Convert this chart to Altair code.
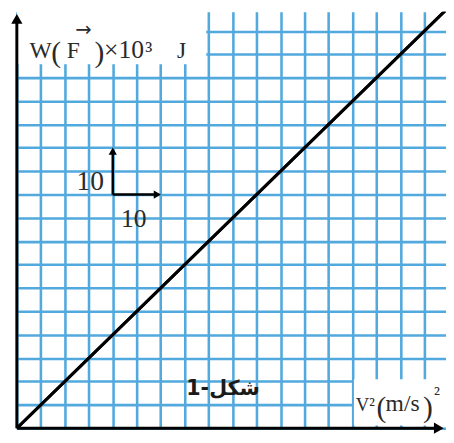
import altair as alt
import pandas as pd

# ---- data ----
v2_values = [0, 90]          # V^2 (m/s)^2
w_values = [0, 90]           # W(F) x 10^3 J
grid_x = list(range(0, 90, 5))
grid_y = list(range(0, 90, 5))
y_label_parts = ["W", "(", "F", ")", "×10", "³", "J", "→"]
x_label_parts = ["V²", "(", "m/s", ")", "²"]
figure_caption = "شكل-1"
scale_labels = ["10", "10"]

XMAX = 89.5
YMAX = 89.1
xs = alt.Scale(domain=[0, XMAX], nice=False, zero=False)
ys = alt.Scale(domain=[0, YMAX], nice=False, zero=False)
GRID = "#52a9de"
INK = "#2a2a2a"
SERIF = "Liberation Serif, Times New Roman, DejaVu Serif, serif"


def ex(field="x", t="quantitative"):
    return alt.X(field, type=t, scale=xs, axis=alt.Axis(values=grid_x), title=None)


def ey(field="y", t="quantitative"):
    return alt.Y(field, type=t, scale=ys, axis=alt.Axis(values=grid_y), title=None)


line_df = pd.DataFrame({"x": v2_values, "y": w_values})
line = alt.Chart(line_df).mark_line(color="black", strokeWidth=3, clip=True).encode(
    x=ex(), y=ey()
)

boxes_df = pd.DataFrame({
    "x": [0, 70.3], "x2": [39.5, XMAX],
    "y": [77.9, 0.6], "y2": [YMAX, 10.5],
})
boxes = alt.Chart(boxes_df).mark_rect(color="white").encode(
    x=ex(), x2="x2", y=ey(), y2="y2"
)

rules_df = pd.DataFrame({
    "x": [0, 0, 20, 20], "x2": [0, 88.0, 29.0, 20],
    "y": [0, 0, 50, 50], "y2": [87.5, 0, 50, 59.0],
    "w": [3, 3, 2.5, 2.5],
})
rules = alt.Chart(rules_df).mark_rule(color="black").encode(
    x=ex(), x2="x2", y=ey(), y2="y2",
    strokeWidth=alt.StrokeWidth("w:Q", scale=None, legend=None),
)

heads_df = pd.DataFrame({
    "x": [0, 88.0, 29.3, 20],
    "y": [87.6, 0, 50, 59.3],
    "shape": ["triangle-up", "triangle-right", "triangle-right", "triangle-up"],
    "s": [130, 130, 70, 70],
})
heads = alt.Chart(heads_df).mark_point(filled=True, color="black", opacity=1).encode(
    x=ex(), y=ey(),
    shape=alt.Shape("shape:N", scale=None, legend=None),
    size=alt.Size("s:Q", scale=None, legend=None),
)

# axis-title pieces (left aligned, alphabetic baseline)
ylab_df = pd.DataFrame({
    "t": y_label_parts[:7],
    "x": [2.66, 7.2, 10.4, 16.2, 18.2, 26.8, 33.4],
    "y": [79.2, 78.4, 79.2, 78.4, 79.2, 79.2, 79.2],
    "fs": [24, 30, 24, 30, 26, 24, 24],
})
xlab_df = pd.DataFrame({
    "t": x_label_parts,
    "x": [70.7, 75.0, 76.9, 84.7, 87.0],
    "y": [3.6, 2.3, 3.6, 2.3, 6.0],
    "fs": [19, 30, 24, 30, 20],
})
lab_df = pd.concat([ylab_df, xlab_df], ignore_index=True)
labels = alt.Chart(lab_df).mark_text(
    align="left", baseline="alphabetic", font=SERIF, color=INK
).encode(
    x=ex(), y=ey(), text="t:N",
    size=alt.Size("fs:Q", scale=None, legend=None),
)

vec_df = pd.DataFrame({"t": [y_label_parts[7]], "x": [13.9], "y": [85.2]})
vec = alt.Chart(vec_df).mark_text(
    align="center", baseline="middle", fontSize=20, font="DejaVu Sans", color=INK
).encode(x=ex(), y=ey(), text="t:N")

scale_df = pd.DataFrame({
    "t": scale_labels, "x": [15.3, 24.4], "y": [52.7, 44.7], "fs": [28, 26],
})
scale_txt = alt.Chart(scale_df).mark_text(
    align="center", baseline="middle", font=SERIF, color=INK
).encode(
    x=ex(), y=ey(), text="t:N",
    size=alt.Size("fs:Q", scale=None, legend=None),
)

cap_df = pd.DataFrame({"t": [figure_caption], "x": [43.0], "y": [8.3]})
caption = alt.Chart(cap_df).mark_text(
    align="center", baseline="middle", fontSize=21, fontWeight="bold",
    font="DejaVu Sans", color="#1a1a1a"
).encode(x=ex(), y=ey(), text="t:N")

chart = alt.layer(
    line, boxes, line, rules, heads, labels, vec, scale_txt, caption
).properties(
    width=437, height=424,
    autosize=alt.AutoSizeParams(type="none"),
    padding={"left": 9, "top": 0, "right": 0, "bottom": 2},
    background="white",
).configure_axis(
    grid=True, gridColor=GRID, gridWidth=2.6, gridOpacity=1,
    labels=False, ticks=False, domain=False,
).configure_view(stroke=None)

chart.save("out.html", embed_options={"renderer": "svg", "actions": False})
